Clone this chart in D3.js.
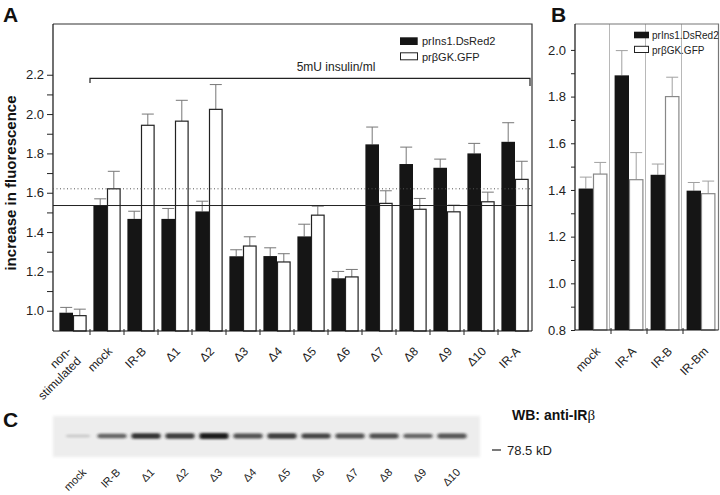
<!DOCTYPE html>
<html><head><meta charset="utf-8">
<script src="https://cdn.jsdelivr.net/npm/d3@7"></script>
<style>body{margin:0;background:#fff;} svg{font-family:"Liberation Sans",Arial,sans-serif;}</style>
</head><body><svg id="c" width="720" height="495"></svg>
<script>
// ---- Panel A data ----
const catsA = ["non-stimulated","mock","IR-B","Δ1","Δ2","Δ3","Δ4","Δ5","Δ6","Δ7","Δ8","Δ9","Δ10","IR-A"];
const insA    = [0.99,1.535,1.467,1.467,1.505,1.277,1.278,1.378,1.165,1.846,1.746,1.727,1.80,1.859];
const insAErr = [0.027,0.034,0.039,0.053,0.052,0.033,0.042,0.062,0.035,0.088,0.086,0.044,0.051,0.097];
const gkA     = [0.975,1.62,1.943,1.964,2.024,1.329,1.248,1.486,1.172,1.546,1.516,1.503,1.554,1.668];
const gkAErr  = [0.033,0.089,0.057,0.106,0.126,0.047,0.042,0.046,0.038,0.064,0.055,0.034,0.049,0.092];
const ticksA = [1.0,1.1,1.2,1.3,1.4,1.5,1.6,1.7,1.8,1.9,2.0,2.1,2.2];
// ---- Panel B data ----
const catsB = ["mock","IR-A","IR-B","IR-Bm"];
const insB    = [1.406,1.891,1.465,1.397];
const insBErr = [0.049,0.106,0.046,0.035];
const gkB     = [1.468,1.444,1.80,1.384];
const gkBErr  = [0.050,0.116,0.083,0.054];
const ticksB = [0.8,0.9,1.0,1.1,1.2,1.3,1.4,1.5,1.6,1.7,1.8,1.9,2.0];
// ---- Panel C data (western blot band intensities) ----
const lanesC = ["mock","IR-B","Δ1","Δ2","Δ3","Δ4","Δ5","Δ6","Δ7","Δ8","Δ9","Δ10"];
const bandC  = [0.10,0.62,0.88,0.82,1.0,0.72,0.82,0.80,0.72,0.74,0.62,0.70];
const seriesNames = ["prIns1.DsRed2","prβGK.GFP"];

const svg = d3.select("#c");
const fmt = d => (Math.round(d*10)%2===0) ? d3.format(".1f")(d) : "";

function panel(opts){
  const {cats, s1, e1, s2, e2, ticks, x, y, left, right, top, bottom, errColor, whiteStroke, frameColor, tickSize, tickPad, grid, labelDx} = opts;
  const g = svg.append("g");
  const bw = x.bandwidth(), barW = bw*0.4;
  if (grid) {
    g.selectAll(".grid").data(cats.slice(1)).join("line")
      .attr("x1", d=>x(d)-1.5).attr("x2", d=>x(d)-1.5).attr("y1", top).attr("y2", bottom)
      .attr("stroke","#b8b8b8").attr("stroke-width",1);
  }
  g.append("path").attr("d",`M${left},${top}H${right}V${bottom}`).attr("fill","none").attr("stroke",frameColor).attr("stroke-width",1.2);
  const eb = (vals, errs, off) => {
    cats.forEach((c,i)=>{
      const cx = x(c)+bw/2+off;
      g.append("line").attr("x1",cx).attr("x2",cx).attr("y1",y(vals[i])).attr("y2",y(vals[i]+errs[i])).attr("stroke",errColor);
      g.append("line").attr("x1",cx-6).attr("x2",cx+6).attr("y1",y(vals[i]+errs[i])).attr("y2",y(vals[i]+errs[i])).attr("stroke",errColor);
    });
  };
  eb(s1,e1,-barW/2); eb(s2,e2,barW/2);
  g.selectAll(".b1").data(cats).join("rect")
    .attr("x",d=>x(d)+bw/2-barW).attr("width",barW)
    .attr("y",(d,i)=>y(s1[i])).attr("height",(d,i)=>bottom-y(s1[i]))
    .attr("fill","#151515");
  g.selectAll(".b2").data(cats).join("rect")
    .attr("x",d=>x(d)+bw/2+0.5).attr("width",barW-1)
    .attr("y",(d,i)=>y(s2[i])).attr("height",(d,i)=>bottom-y(s2[i]))
    .attr("fill","#fff").attr("stroke",whiteStroke).attr("stroke-width",1.2);
  const ax = g.append("g").attr("transform",`translate(${left},0)`)
    .call(d3.axisLeft(y).tickValues(ticks).tickFormat(fmt).tickSize(tickSize).tickPadding(tickPad).tickSizeOuter(0));
  ax.select(".domain").attr("d",`M0,${top}V${bottom}`).attr("stroke","#111").attr("stroke-width",1.2);
  ax.selectAll("text").attr("font-size",13).attr("fill","#222").attr("font-family","Liberation Sans, Arial, sans-serif");
  ax.selectAll(".tick line").attr("stroke","#222");
  g.append("line").attr("x1",left).attr("x2",right).attr("y1",bottom).attr("y2",bottom).attr("stroke","#111").attr("stroke-width",1.2);
  g.selectAll(".xt").data(cats.slice(1)).join("line")
    .attr("x1",d=>x(d)).attr("x2",d=>x(d)).attr("y1",bottom-2).attr("y2",bottom+4).attr("stroke","#222");
  cats.forEach(c=>{
    const cx = x(c)+bw/2;
    if (c==="non-stimulated") {
      const t = g.append("text").attr("transform",`translate(${cx-1},352) rotate(-45)`).attr("text-anchor","end").attr("font-size",12).attr("fill","#222");
      t.append("tspan").attr("x",0).attr("dy",0).text("non-");
      t.append("tspan").attr("x",0).attr("dy","1.15em").text("stimulated");
    } else {
      g.append("text").attr("transform",`translate(${cx+labelDx},352) rotate(-45)`).attr("text-anchor","end").attr("font-size",12).attr("fill","#222").text(c);
    }
  });
  return g;
}

// ---- Panel A ----
const xA = d3.scaleBand().domain(catsA).range([56,532]);
const yA = d3.scaleLinear().domain([0.897,2.458]).range([331,24]);
const gA = panel({cats:catsA,s1:insA,e1:insAErr,s2:gkA,e2:gkAErr,ticks:ticksA,x:xA,y:yA,left:53,right:532,top:24,bottom:331,
  errColor:"#777",whiteStroke:"#222",frameColor:"#333",tickSize:6,tickPad:3,grid:false,labelDx:6});
gA.append("line").attr("x1",53).attr("x2",532).attr("y1",yA(insA[1])).attr("y2",yA(insA[1])).attr("stroke","#222").attr("stroke-width",1);
gA.append("line").attr("x1",53).attr("x2",532).attr("y1",yA(gkA[1])).attr("y2",yA(gkA[1])).attr("stroke","#555").attr("stroke-width",1).attr("stroke-dasharray","1,2.5");
gA.append("path").attr("d",`M${xA("mock")},83V78.3H530V86`).attr("fill","none").attr("stroke","#222").attr("stroke-width",1.2);
gA.append("text").attr("x",336).attr("y",71).attr("text-anchor","middle").attr("font-size",12).attr("fill","#222").text("5mU insulin/ml");
gA.append("rect").attr("x",400).attr("y",37.3).attr("width",17.7).attr("height",7.7).attr("fill","#151515");
gA.append("rect").attr("x",400.5).attr("y",52.8).attr("width",17).attr("height",7).attr("fill","#fff").attr("stroke","#222");
gA.append("text").attr("x",422).attr("y",45).attr("font-size",11).attr("fill","#222").text(seriesNames[0]);
gA.append("text").attr("x",422).attr("y",60.5).attr("font-size",11).attr("fill","#222").text(seriesNames[1]);
svg.append("text").attr("transform","translate(16,183) rotate(-90)").attr("text-anchor","middle")
  .attr("font-size",15).attr("font-weight","bold").attr("fill","#111").text("increase in fluorescence");

// ---- Panel B ----
const xB = d3.scaleBand().domain(catsB).range([575,719]);
const yB = d3.scaleLinear().domain([0.8,2.111]).range([330,24]);
const gB = panel({cats:catsB,s1:insB,e1:insBErr,s2:gkB,e2:gkBErr,ticks:ticksB,x:xB,y:yB,left:575,right:718.5,top:24,bottom:330,
  errColor:"#a0a0a0",whiteStroke:"#888",frameColor:"#777",tickSize:4,tickPad:5,grid:true,labelDx:8});
gB.append("rect").attr("x",634).attr("y",31.7).attr("width",15).attr("height",6.6).attr("fill","#151515");
gB.append("rect").attr("x",634.5).attr("y",46.3).attr("width",14).attr("height",6.2).attr("fill","#fff").attr("stroke","#222");
gB.append("text").attr("x",652).attr("y",39).attr("font-size",10).attr("fill","#222").text(seriesNames[0]);
gB.append("text").attr("x",652).attr("y",53.5).attr("font-size",10).attr("fill","#222").text(seriesNames[1]);

svg.append("text").attr("x",3).attr("y",22).attr("font-size",21).attr("font-weight","bold").attr("fill","#111").text("A");
svg.append("text").attr("x",551).attr("y",22).attr("font-size",21).attr("font-weight","bold").attr("fill","#111").text("B");
svg.append("text").attr("x",3).attr("y",427).attr("font-size",21).attr("font-weight","bold").attr("fill","#111").text("C");

// ---- Panel C: western blot ----
const defs = svg.append("defs");
defs.append("filter").attr("id","blur").attr("x","-30%").attr("y","-100%").attr("width","160%").attr("height","300%")
  .append("feGaussianBlur").attr("stdDeviation","1.6 1.1");
defs.append("filter").attr("id","blurBg").append("feGaussianBlur").attr("stdDeviation","1.5");
const xC = d3.scalePoint().domain(lanesC).range([78,452]);
const gC = svg.append("g");
gC.append("rect").attr("x",53).attr("y",416).attr("width",427).attr("height",41).attr("fill","#ededed").attr("filter","url(#blurBg)");
gC.selectAll(".band").data(lanesC).join("rect")
  .attr("x",(d,i)=>xC(d)-(i===0?12:14.5)).attr("width",(d,i)=>i===0?24:29)
  .attr("y",(d,i)=>436-(2+4*bandC[i])/2).attr("height",(d,i)=>2+4*bandC[i])
  .attr("rx",2).attr("fill","#1a1a1a").attr("opacity",(d,i)=>Math.min(1,0.1+0.9*bandC[i]))
  .attr("filter","url(#blur)");
gC.selectAll(".lab").data(lanesC).join("text")
  .attr("transform",d=>`translate(${xC(d)+9},473) rotate(-45)`).attr("text-anchor","end")
  .attr("font-size",11).attr("fill","#222").text(d=>d);
const wb = svg.append("text").attr("x",512).attr("y",420).attr("font-size",14).attr("font-weight","bold").attr("fill","#111");
wb.append("tspan").text("WB: anti-IR");
wb.append("tspan").attr("font-weight","normal").attr("font-family","Liberation Serif, serif").attr("font-size",15).text("β");
svg.append("line").attr("x1",492).attr("x2",501).attr("y1",450).attr("y2",450).attr("stroke","#222").attr("stroke-width",1.2);
svg.append("text").attr("x",507).attr("y",455).attr("font-size",13).attr("fill","#222").text("78.5 kD");
</script></body></html>
